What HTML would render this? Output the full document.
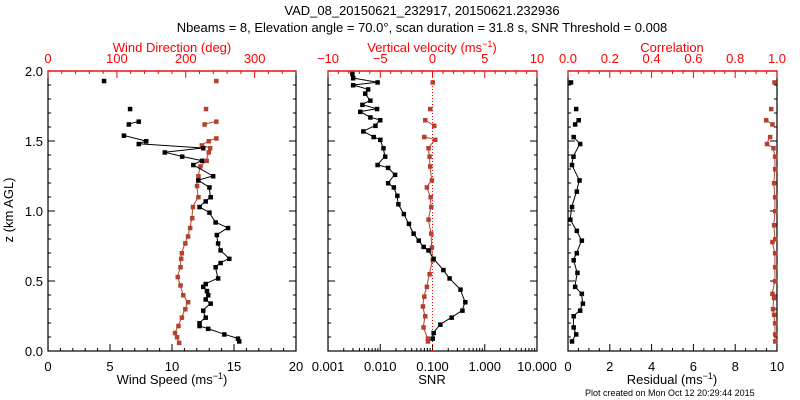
<!DOCTYPE html>
<html><head><meta charset="utf-8">
<style>
html,body{margin:0;padding:0;background:#fff;}
svg{display:block;font-family:"Liberation Sans",sans-serif;}
</style></head>
<body>
<svg id="chart" width="800" height="400" viewBox="0 0 800 400" xmlns="http://www.w3.org/2000/svg">
<text x="422" y="15" font-size="13" text-anchor="middle">VAD_08_20150621_232917, 20150621.232936</text>
<text x="422" y="32" font-size="13" text-anchor="middle">Nbeams = 8, Elevation angle = 70.0°, scan duration = 31.8 s, SNR Threshold = 0.008</text>
<text transform="translate(13,210) rotate(-90)" font-size="13" text-anchor="middle">z (km AGL)</text>
<text x="585" y="396" font-size="9">Plot created on Mon Oct 12 20:29:44 2015</text>
<g id="g"></g>
</svg>
<script>
// Panel 1: wind speed (black) and direction (red)
const wsZ = [1.93,1.73,1.64,1.62,1.54,1.50,1.48,1.45,1.42,1.39,1.36,1.33,1.25,1.22,1.17,1.10,1.07,1.03,0.99,0.92,0.88,0.83,0.77,0.72,0.66,0.63,0.60,0.52,0.48,0.46,0.43,0.40,0.37,0.34,0.29,0.24,0.20,0.18,0.16,0.12,0.09,0.07];
const wsVal = [4.5,6.6,7.3,6.5,6.1,7.9,7.3,12.5,9.4,10.8,12.4,11.7,13.3,12.1,13.0,13.1,12.7,12.2,13.0,13.5,14.5,13.6,13.7,13.9,14.6,13.9,13.5,13.7,12.7,12.5,12.8,12.9,12.7,13.1,12.5,12.7,12.2,12.2,12.9,14.2,15.3,15.4];
const wdZ = [1.93,1.73,1.64,1.62,1.52,1.50,1.47,1.45,1.42,1.36,1.32,1.25,1.18,1.10,1.03,0.95,0.88,0.82,0.77,0.70,0.66,0.60,0.53,0.47,0.40,0.35,0.30,0.24,0.18,0.13,0.10,0.06];
const wdVal = [244,229,244,227,244,233,223,235,233,230,221,218,216,218,210,209,206,203,199,194,193,192,188,192,196,203,199,194,189,184,187,190];
// Panel 2: SNR (black, log) and vertical velocity (red)
const snrZ = [1.98,1.95,1.92,1.90,1.87,1.84,1.79,1.76,1.73,1.71,1.67,1.65,1.61,1.57,1.53,1.51,1.45,1.39,1.33,1.31,1.26,1.20,1.17,1.11,1.05,0.98,0.91,0.84,0.79,0.745,0.72,0.66,0.58,0.52,0.44,0.35,0.29,0.24,0.19,0.13,0.09];
const snrVal = [0.0029,0.0030,0.0088,0.0030,0.0058,0.0051,0.0064,0.0045,0.0086,0.0041,0.0064,0.0099,0.0080,0.0047,0.0074,0.0099,0.0114,0.0123,0.0088,0.014,0.019,0.014,0.018,0.021,0.022,0.028,0.035,0.043,0.054,0.067,0.083,0.104,0.16,0.21,0.34,0.42,0.37,0.23,0.14,0.104,0.10];
const wZ = [1.92,1.73,1.65,1.61,1.53,1.51,1.45,1.39,1.32,1.22,1.17,1.10,1.03,0.94,0.84,0.74,0.65,0.55,0.46,0.39,0.32,0.25,0.17,0.09,0.07];
const wVal = [0,-0.24,-0.72,0.14,-0.81,0.24,-0.4,-0.3,-0.24,-0.08,-0.56,-0.2,-0.14,-0.4,-0.14,-0.08,0,-0.3,-0.56,-0.81,-0.94,-0.72,-0.88,-0.46,-0.46];
// Panel 3: residual (black) and correlation (red)
const resZ = [1.92,1.73,1.65,1.62,1.53,1.48,1.39,1.33,1.22,1.14,1.03,0.94,0.86,0.79,0.70,0.65,0.56,0.46,0.41,0.34,0.29,0.25,0.17,0.12,0.07];
const resVal = [0.13,0.38,0.5,0.33,0.26,0.57,0.25,0.18,0.54,0.41,0.18,0.1,0.41,0.65,0.41,0.26,0.44,0.33,0.65,0.7,0.57,0.26,0.26,0.38,0.18];
const corZ = [1.92,1.73,1.65,1.62,1.53,1.48,1.45,1.39,1.30,1.20,1.10,1.00,0.90,0.80,0.78,0.70,0.60,0.50,0.41,0.38,0.30,0.26,0.20,0.12,0.07];
const corVal = [0.987,0.971,0.947,0.977,0.966,0.951,0.982,0.99,0.99,0.985,0.99,0.99,0.985,0.99,0.977,0.99,0.99,0.99,0.977,0.985,0.98,0.985,0.99,0.99,0.99];

const NS='http://www.w3.org/2000/svg';
const G=document.getElementById('g');
const RED='#ff0000', DK='#b5402e';
function el(t,a,p){const e=document.createElementNS(NS,t);for(const k in a)e.setAttribute(k,a[k]);(p||G).appendChild(e);return e;}
const Y0=351,Y1=71;
const yz=z=>Y0-(z/2)*(Y0-Y1);
function lin(d0,d1,r0,r1){return v=>r0+(v-d0)/(d1-d0)*(r1-r0);}

function frame(x0,x1,name){
  const r=el('rect',{x:x0,y:Y1,width:x1-x0,height:Y0-Y1,fill:'none',stroke:'#000','stroke-width':1.2});
  
  
}
function yTicks(x0,x1,labels){
  for(let i=0;i<=20;i++){const z=i*0.1,y=yz(z),L=i%5==0?7:3;
    el('line',{x1:x0,x2:x0+L,y1:y,y2:y,stroke:'#000'});
    el('line',{x1:x1,x2:x1-L,y1:y,y2:y,stroke:'#000'});
    if(labels&&i%5==0){const t=el('text',{x:x0-5,y:y+5,'font-size':13,'text-anchor':'end'});t.textContent=z.toFixed(1);
      
      }
  }
}
function xTicksLin(sc,d0,d1,maj,min,fmt,top,color,x1name){
  for(let v=d0;v<=d1+1e-9;v+=min){const x=sc(v);const isM=Math.abs(v/maj-Math.round(v/maj))<1e-6;const L=isM?7:3;
    if(top){el('line',{x1:x,x2:x,y1:Y1,y2:Y1+L,stroke:color});}
    else el('line',{x1:x,x2:x,y1:Y0,y2:Y0-L,stroke:color});
    if(isM){const t=el('text',{x:x,y:top?Y1-8:Y0+20,'font-size':13,'text-anchor':'middle',fill:color});t.textContent=fmt(v);
      
      }
  }
}
function title(x,y,txt,sup,color,name){
  const t=el('text',{x:x,y:y,'font-size':13,'text-anchor':'middle',fill:color});
  
  
  t.textContent=txt;
  if(sup){const s=el('tspan',{'font-size':9,dy:-5},t);s.textContent=sup;const s2=el('tspan',{dy:5},t);s2.textContent=')';}
}
function series(xs,zs,sc,color,name,line){
  const pts=xs.map((v,i)=>[sc(v),yz(zs[i])]);
  if(line){
    for(let i=1;i<pts.length;i++){
      if(zs[i-1]-zs[i]>0.06 && zs[i]>1.5)continue;
      const l=el('line',{x1:pts[i-1][0],y1:pts[i-1][1],x2:pts[i][0],y2:pts[i][1],stroke:color,'stroke-width':1});
      
      
    }
  }
  pts.forEach(p=>{const c=el('rect',{x:p[0]-2,y:p[1]-2,width:4.5,height:4.5,fill:color});
    
    });
}
// Panel 1
const P1=[48,296];
frame(P1[0],P1[1],'wind-panel');
yTicks(P1[0],P1[1],true);
const sWS=lin(0,20,P1[0],P1[1]), sWD=lin(0,360,P1[0],P1[1]);
xTicksLin(sWS,0,20,5,1,v=>v.toFixed(0),false,'#000','wind-speed-tick');
xTicksLin(sWD,0,360,100,20,v=>v>350?'':v.toFixed(0),true,RED,'wind-direction-tick');
el('line',{x1:P1[0],x2:P1[1],y1:Y1,y2:Y1,stroke:RED,'stroke-width':1.2});
title(172,384,'Wind Speed (ms','−1','#000','wind-speed-axis-title');
title(172,52,'Wind Direction (deg)',null,RED,'wind-direction-axis-title');
series(wdVal,wdZ,sWD,DK,'wind-direction',true);
series(wsVal,wsZ,sWS,'#000','wind-speed',true);
// Panel 2
const P2=[328,537];
frame(P2[0],P2[1],'snr-panel');
yTicks(P2[0],P2[1],false);
const sW=lin(-10,10,P2[0],P2[1]);
const sS=v=>P2[0]+(Math.log10(v)+3)/4*(P2[1]-P2[0]);
for(let d=-3;d<=1;d++){for(let m=1;m<=9;m++){if(d==1&&m>1)break;const v=m*Math.pow(10,d);const x=sS(v);
  el('line',{x1:x,x2:x,y1:Y0,y2:Y0-(m==1?7:3),stroke:'#000'});
  if(m==1){const t=el('text',{x:x,y:Y0+20,'font-size':13,'text-anchor':'middle'});t.textContent=v.toFixed(3);
    
    }}}
xTicksLin(sW,-10,10,5,1,v=>v<0?'−'+Math.abs(v):String(v),true,RED,'vertical-velocity-tick');
el('line',{x1:P2[0],x2:P2[1],y1:Y1,y2:Y1,stroke:RED,'stroke-width':1.2});
el('line',{x1:sW(0),x2:sW(0),y1:Y1,y2:Y0,stroke:RED,'stroke-dasharray':'1,2'});
title(432,384,'SNR',null,'#000','snr-axis-title');
title(432,52,'Vertical velocity (ms','−1',RED,'vertical-velocity-axis-title');
series(wVal,wZ,sW,DK,'vertical-velocity',true);
series(snrVal,snrZ,sS,'#000','snr',true);
// Panel 3
const P3=[568,777];
frame(P3[0],P3[1],'residual-panel');
yTicks(P3[0],P3[1],false);
const sR=lin(0,10,P3[0],P3[1]), sC=lin(0,1,P3[0],P3[1]);
xTicksLin(sR,0,10,2,0.5,v=>v.toFixed(0),false,'#000','residual-tick');
xTicksLin(sC,0,1,0.2,0.05,v=>v.toFixed(1),true,RED,'correlation-tick');
el('line',{x1:P3[0],x2:P3[1],y1:Y1,y2:Y1,stroke:RED,'stroke-width':1.2});
title(672,384,'Residual (ms','−1','#000','residual-axis-title');
title(672,52,'Correlation',null,RED,'correlation-axis-title');
series(corVal,corZ,sC,DK,'correlation',true);
series(resVal,resZ,sR,'#000','residual',true);
</script>
</body></html>
